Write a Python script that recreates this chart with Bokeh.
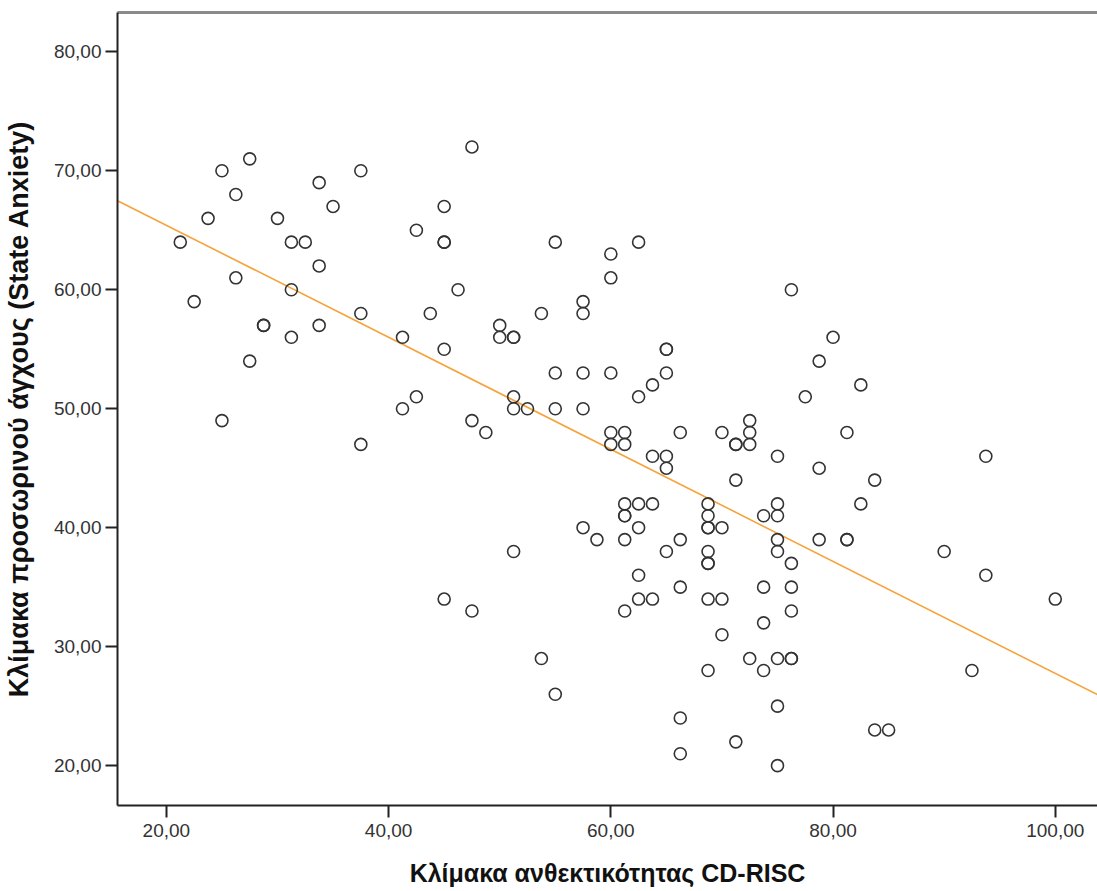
import numpy as np
from bokeh.plotting import figure
from bokeh.models import LinearAxis, FixedTicker, Range1d, ColumnDataSource
from bokeh.embed import file_html
from bokeh.resources import INLINE

# CD-RISC resilience scores (x) and state anxiety scores (y)
cd_risc = [21.25, 22.5, 23.75, 25, 25, 26.25, 26.25, 27.5, 27.5, 28.75, 28.75, 30,
           31.25, 31.25, 31.25, 32.5, 33.75, 33.75, 33.75, 35, 37.5, 37.5, 37.5,
           41.25, 41.25, 42.5, 42.5, 43.75, 45, 45, 45, 45, 45, 46.25, 47.5, 47.5, 47.5,
           48.75, 50, 50, 51.25, 51.25, 51.25, 51.25, 51.25, 52.5, 53.75, 53.75,
           55, 55, 55, 55, 57.5, 57.5, 57.5, 57.5, 57.5, 58.75,
           60, 60, 60, 60, 60, 61.25, 61.25, 61.25, 61.25, 61.25, 61.25, 61.25,
           62.5, 62.5, 62.5, 62.5, 62.5, 62.5, 63.75, 63.75, 63.75, 63.75,
           65, 65, 65, 65, 65, 65, 66.25, 66.25, 66.25, 66.25, 66.25,
           68.75, 68.75, 68.75, 68.75, 68.75, 68.75, 68.75, 68.75, 68.75,
           70, 70, 70, 70, 71.25, 71.25, 71.25, 71.25, 72.5, 72.5, 72.5, 72.5,
           73.75, 73.75, 73.75, 73.75, 75, 75, 75, 75, 75, 75, 75, 75,
           76.25, 76.25, 76.25, 76.25, 76.25, 76.25, 77.5, 78.75, 78.75, 78.75,
           80, 81.25, 81.25, 81.25, 82.5, 82.5, 83.75, 83.75, 85, 90, 92.5,
           93.75, 93.75, 100]
state_anxiety = [64, 59, 66, 70, 49, 68, 61, 71, 54, 57, 57, 66,
                 64, 60, 56, 64, 69, 62, 57, 67, 70, 58, 47,
                 56, 50, 65, 51, 58, 67, 64, 64, 55, 34, 60, 72, 49, 33,
                 48, 57, 56, 56, 56, 51, 50, 38, 50, 58, 29,
                 64, 53, 50, 26, 59, 58, 53, 50, 40, 39,
                 63, 61, 53, 48, 47, 48, 47, 42, 41, 41, 39, 33,
                 64, 51, 42, 40, 36, 34, 52, 46, 42, 34,
                 55, 55, 53, 46, 45, 38, 48, 39, 35, 24, 21,
                 42, 41, 40, 40, 38, 37, 37, 34, 28,
                 48, 40, 34, 31, 47, 47, 44, 22, 49, 48, 47, 29,
                 41, 35, 32, 28, 46, 42, 41, 39, 38, 29, 25, 20,
                 60, 37, 35, 33, 29, 29, 51, 54, 45, 39,
                 56, 48, 39, 39, 52, 42, 44, 23, 23, 38, 28,
                 46, 36, 34]

x_tick_values = [20, 40, 60, 80, 100]
x_tick_labels = ["20,00", "40,00", "60,00", "80,00", "100,00"]
y_tick_values = [20, 30, 40, 50, 60, 70, 80]
y_tick_labels = ["20,00", "30,00", "40,00", "50,00", "60,00", "70,00", "80,00"]

x_title = "Κλίμακα ανθεκτικότητας CD-RISC"
y_title = "Κλίμακα προσωρινού άγχους (State Anxiety)"

x_lo, x_hi = 15.6, 103.8
y_lo, y_hi = 16.65, 83.3

p = figure(width=1097, height=891, output_backend="svg", toolbar_location=None,
           x_range=Range1d(x_lo, x_hi), y_range=Range1d(y_lo, y_hi),
           min_border_left=116, min_border_right=0, min_border_top=12,
           min_border_bottom=86)
p.background_fill_color = "white"
p.border_fill_color = "white"
p.outline_line_color = None
p.xgrid.visible = False
p.ygrid.visible = False

FONT = "Liberation Sans"
for ax, vals, labs in ((p.xaxis[0], x_tick_values, x_tick_labels),
                       (p.yaxis[0], y_tick_values, y_tick_labels)):
    ax.ticker = FixedTicker(ticks=vals)
    ax.major_label_overrides = {v: l for v, l in zip(vals, labs)}
    ax.minor_tick_line_color = None
    ax.major_tick_out = 12
    ax.major_tick_in = 0
    ax.major_tick_line_width = 2
    ax.major_tick_line_color = "#222222"
    ax.axis_line_width = 2
    ax.axis_line_color = "#222222"
    ax.major_label_text_font = FONT
    ax.major_label_text_font_size = "19px"
    ax.major_label_text_color = "#333333"
    ax.axis_label_text_font = FONT
    ax.axis_label_text_font_style = "bold"
    ax.axis_label_text_color = "#111111"

p.xaxis[0].axis_label = x_title
p.xaxis[0].axis_label_text_font_size = "25px"
p.xaxis[0].major_label_standoff = 6
p.xaxis[0].axis_label_standoff = 19
p.yaxis[0].axis_label = y_title
p.yaxis[0].axis_label_text_font_size = "27px"
p.yaxis[0].major_label_standoff = 4
p.yaxis[0].axis_label_standoff = 17

top = LinearAxis(ticker=FixedTicker(ticks=[]), major_label_text_font_size="0px",
                 axis_line_color="#8a8a8a", axis_line_width=3,
                 major_tick_line_color=None, minor_tick_line_color=None)
p.add_layout(top, "above")

# least-squares fit line
slope, intercept = np.polyfit(np.array(cd_risc), np.array(state_anxiety), 1)
fit_x = [x_lo, x_hi]
fit_y = [intercept + slope * v for v in fit_x]
p.line(fit_x, fit_y, line_color="#F5A33A", line_width=1.6)

src = ColumnDataSource(dict(x=cd_risc, y=state_anxiety))
p.scatter("x", "y", source=src, marker="circle", size=12, fill_color=None,
          line_color="#333333", line_width=1.6)

open("out.html", "w").write(file_html(p, INLINE))
